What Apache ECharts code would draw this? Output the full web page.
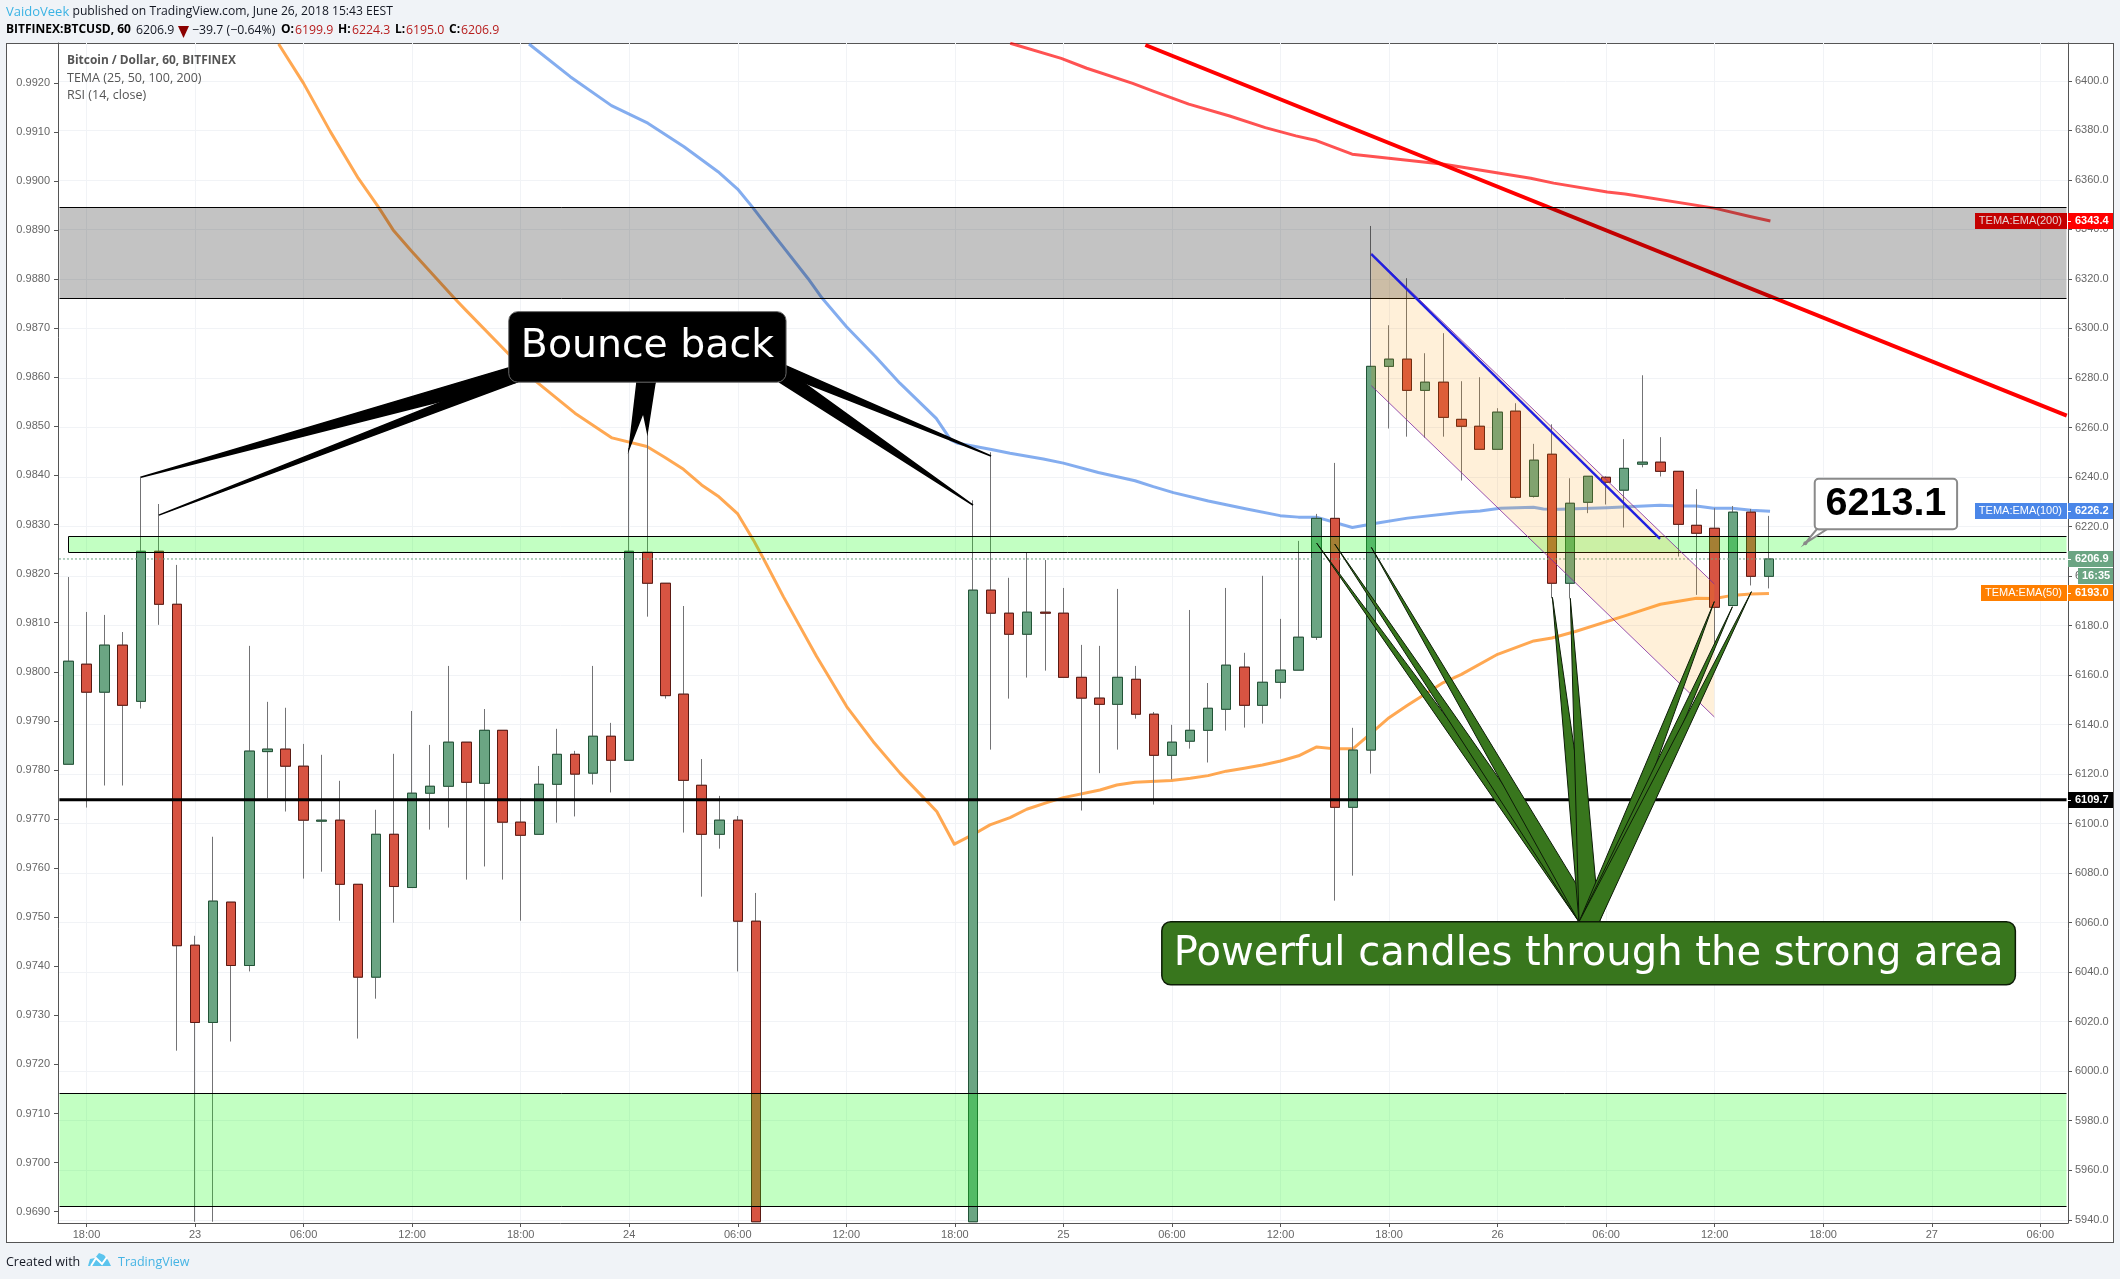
<!DOCTYPE html>
<html><head><meta charset="utf-8">
<style>
html,body{margin:0;padding:0;background:#F0F3F7;width:2120px;height:1279px;overflow:hidden}
#frame{position:absolute;left:6px;top:43px;width:2106px;height:1198px;background:#fff;border:1px solid #555}
#main{position:absolute;left:0;top:0;width:2120px;height:1279px}
</style>
<script src="https://cdn.jsdelivr.net/npm/echarts@6/dist/echarts.min.js"></script>
</head><body><div id="frame"></div><div id="main"></div>
<script>
// ---- candles (hour offset from 22 Jun 18:00) ----
const candleHours = [-1,0,1,2,3,4,5,6,7,8,9,10,11,12,13,14,15,16,17,18,19,20,21,22,23,24,25,26,27,28,29,30,31,32,33,34,35,36,37,
49,50,51,52,53,54,55,56,57,58,59,60,61,62,63,64,65,66,67,68,69,70,71,72,73,74,75,76,77,78,79,80,81,82,83,84,85,86,87,88,89,90,91,92,93];
const opens = [6124.0,6164.4,6153.1,6172.1,6149.4,6210.0,6188.6,6050.9,6019.7,6068.3,
6042.7,6129.1,6130.1,6123.2,6101.0,6101.4,6075.5,6038.0,6095.7,6074.2,
6112.3,6115.1,6132.9,6116.3,6137.7,6100.6,6095.7,6115.9,6128.0,6120.4,
6135.3,6125.6,6209.6,6197.1,6152.3,6115.5,6095.7,6101.4,6060.6,
5939.2,6194.3,6185.0,6176.5,6185.4,6185.0,6159.1,6150.7,6148.2,6158.3,
6144.2,6127.6,6133.3,6137.7,6146.2,6163.2,6147.8,6157.1,6162.0,6175.3,
6223.3,6106.6,6129.7,6284.7,6287.6,6275.0,6278.3,6263.3,6260.5,6251.2,
6266.6,6232.2,6249.2,6197.1,6229.8,6239.9,6234.7,6245.2,6246.0,6242.3,
6220.5,6219.3,6188.1,6225.8,6199.9];
const closes = [6165.6,6153.1,6172.1,6147.8,6210.0,6188.6,6050.7,6019.7,6068.7,6042.7,
6129.3,6130.1,6123.2,6101.4,6101.4,6075.5,6038.0,6095.7,6074.6,6112.3,
6115.1,6132.9,6116.7,6137.7,6100.6,6095.3,6115.9,6128.0,6120.0,6135.3,
6125.6,6210.0,6197.1,6151.7,6117.5,6095.7,6101.4,6060.6,5939.2,
6194.3,6185.0,6176.5,6185.4,6185.0,6159.1,6150.7,6148.2,6159.1,6144.2,
6127.6,6132.9,6137.7,6146.6,6164.0,6147.8,6157.1,6162.0,6175.3,6223.3,
6106.6,6129.7,6284.7,6287.6,6275.0,6278.3,6264.1,6260.5,6251.2,6266.2,
6231.8,6246.8,6197.1,6229.4,6240.3,6237.9,6243.5,6246.0,6242.3,6220.9,
6217.3,6187.4,6225.8,6199.9,6206.9];
const lows = [6124.0,6106.5,6115.4,6115.4,6146.5,6180.3,6008.3,5939.2,5939.2,6012.0,
6040.3,6110.3,6104.9,6077.8,6080.6,6060.8,6013.2,6029.3,6060.0,6074.2,
6097.6,6098.4,6077.4,6082.7,6077.4,6060.8,6095.7,6100.4,6102.9,6115.8,
6112.6,6125.6,6183.6,6150.5,6096.4,6070.5,6089.9,6040.3,5939.2,
5939.2,6129.9,6150.5,6159.0,6161.8,6159.1,6105.3,6120.4,6129.9,6142.4,
6107.7,6117.9,6130.3,6124.7,6137.6,6138.8,6140.4,6150.5,6162.0,6174.2,
6068.9,6079.0,6120.2,6259.6,6256.3,6255.9,6256.3,6238.6,6251.2,6251.2,
6231.3,6231.7,6191.0,6191.0,6225.4,6228.9,6219.6,6243.9,6240.2,6207.9,
6192.4,6170.0,6188.1,6196.2,6195.0];
const highs = [6199.6,6185.5,6184.3,6177.4,6240.2,6229.1,6204.5,6054.7,6094.7,6068.3,
6171.8,6149.2,6146.8,6132.2,6127.8,6117.3,6075.5,6105.6,6128.2,6145.5,
6131.8,6163.7,6132.9,6146.3,6137.7,6110.3,6123.3,6138.3,6129.4,6163.7,
6140.7,6251.7,6264.3,6197.1,6187.9,6126.1,6111.2,6103.1,6072.0,
6230.6,6250.0,6199.3,6209.6,6206.5,6195.2,6172.2,6171.8,6194.8,6163.7,
6145.1,6139.9,6186.3,6156.8,6195.2,6169.0,6200.1,6182.7,6214.2,6225.1,
6245.7,6138.7,6341.4,6301.3,6320.3,6290.0,6298.1,6278.7,6280.3,6267.8,
6269.8,6253.4,6261.3,6239.5,6240.3,6240.3,6255.3,6281.1,6256.1,6242.3,
6235.1,6227.4,6228.3,6227.1,6224.3];

// ---- indicators [hour, price] ----
const tema50 = [[10.62,6414.9],[12,6399],[13.48,6379.5],[15.02,6360.7],[16.15,6348.9],[16.95,6339.8],[17.96,6331.3],[20.3,6312.5],[20.98,6307.3],[23.39,6289.3],[24.86,6278.5],[27,6265.8],[29.05,6255.8],[30.98,6252.3],[31.98,6247.9],[33,6243.1],[34,6236.8],[34.96,6232],[36,6225.1],[36.86,6214.6],[37.41,6207.2],[38.52,6191.7],[40.36,6167.5],[42.02,6147.3],[43.49,6133.1],[44.97,6120.4],[47,6104.9],[47.97,6091.7],[49.21,6096.4],[49.94,6099.5],[51.05,6102.4],[51.97,6105.8],[53.08,6108.5],[54,6110.5],[56.02,6113.6],[56.95,6115.6],[57.96,6116.7],[59.97,6117.4],[61.02,6118.3],[62,6119.4],[63,6121.2],[64,6122.4],[65,6123.7],[66,6125.3],[67,6127.4],[68,6131],[69,6130.2],[70,6130.2],[71,6136.5],[72,6142.8],[73,6147.7],[74,6152.4],[75,6157],[76,6160.3],[78,6168.4],[80,6173.8],[81,6175],[82.3,6177.6],[85.2,6184.3],[87,6188.6],[89,6191],[90,6190.9],[90.9,6192.1],[92,6192.8],[93,6193]];
const tema100 = [[24.46,6414.9],[26.74,6401.7],[29.02,6390],[31.03,6382.9],[33.03,6373.4],[34.91,6363.3],[35.99,6356.3],[36.79,6349.2],[37.99,6337.8],[39.87,6320.3],[40.67,6312.2],[42.01,6300.7],[43.62,6288.6],[44.96,6277.9],[46.97,6263.7],[47.77,6255],[48.17,6253.6],[50.02,6251.1],[51.05,6249.6],[52.89,6247.3],[54,6245.6],[55.93,6241.8],[57.96,6238.5],[58.97,6236.1],[60.08,6233.7],[62.01,6230.3],[64.13,6227.1],[65.98,6224.4],[66.99,6223.8],[67.98,6223.8],[69.97,6219.6],[71.28,6221.3],[73.02,6223.4],[75.98,6225.8],[77.03,6226.3],[78.14,6227.4],[79.98,6227.8],[80.53,6227.1],[81.45,6227],[84.03,6227.6],[86.98,6228.6],[87.99,6228.3],[88.99,6228.3],[89.93,6227.4],[90.96,6227.4],[92.03,6226.6],[93.06,6226.2]];
const tema200 = [[51.06,6415.2],[53.88,6409.1],[55.29,6405.1],[57.83,6399],[58.96,6395.9],[60.93,6390.6],[63.19,6385.8],[65.16,6381.1],[66.85,6377.8],[67.98,6375.9],[69.96,6370.4],[75.04,6366.3],[79.83,6360.7],[81.1,6358.7],[84.06,6355.1],[85.05,6354.3],[89.98,6348.6],[91.95,6345.2],[93.08,6343.4]];

// ---- axes ----
const priceTicks = [5940,5960,5980,6000,6020,6040,6060,6080,6100,6120,6140,6160,6180,6200,6220,6240,6260,6280,6300,6320,6340,6360,6380,6400];
const ratioTicks = [0.969,0.970,0.971,0.972,0.973,0.974,0.975,0.976,0.977,0.978,0.979,0.980,0.981,0.982,0.983,0.984,0.985,0.986,0.987,0.988,0.989,0.990,0.991,0.992];
const timeTicks = [0,6,12,18,24,30,36,42,48,54,60,66,72,78,84,90,96,102,108];
const timeLabels = ['18:00','23','06:00','12:00','18:00','24','06:00','12:00','18:00','25','06:00','12:00','18:00','26','06:00','12:00','18:00','27','06:00'];

// ---- drawings in chart coordinates ----
const zoneRows = [[-1.52,6349.0,109.4,6312.2],[-1,6216.3,109.4,6209.6],[-1.52,5991.1,109.4,5945.5]];
const supportLine = [[-1.5,6109.7,109.45,6109.7]];
const lastPriceLine = [[-1.52,6206.9,109.45,6206.9]];
const trendLine = [[58.53,6414.5,109.46,6264.8]];
const channelCorners = [[71.02,6330.4],[89.98,6196.8],[89.98,6143.1],[71.02,6276.9]];
const channelEdges = [[71.02,6330.4,89.98,6196.8],[71.02,6276.9,89.98,6143.1]];
const channelMidLine = [[71.02,6330,86.98,6215]];
const bounceTails = [[3,6239.9,23.34,6284.1,23.8,6278.4],[4,6224.6,23.34,6281.2,23.8,6278.4],[30,6251.6,30.43,6278.4,31.43,6278.4],[31,6258.2,30.43,6278.4,31.43,6278.4],[50,6248.5,38.67,6284.9,38.67,6281],[49,6228.7,38.67,6283.2,38.3,6278.4]];
const bounceBox = [23.34,6306.8,38.67,6278.3];
const strongTails = [68,6213.3,69,6212.9,71.02,6211.6,81.03,6191.4,82.02,6191.0,89.98,6189.7,90.98,6187.6,92.03,6193.7];
const strongBase = [82.5,83.62,6060.3];
const strongBox = [59.44,6060.4,106.62,6034.9];
const priceNoteBox = [95.53,6239.3,103.4,6218.9];
const priceNoteTail = [95.01,6213.3,95.64,96.2,6218.9];
const priceNoteText = '6213.1';
const badges = [
  {price:6343.4,name:'TEMA:EMA(200)',bg:'#c40000',bg2:'#ff0000',fg:'#e6d0d0'},
  {price:6226.2,name:'TEMA:EMA(100)',bg:'#4a86e8',bg2:'#4a86e8',fg:'#ffffff'},
  {price:6206.9,name:'',bg:'',bg2:'#6ba583',fg:'#ffffff'},
  {price:6193.0,name:'TEMA:EMA(50)',bg:'#ff7f00',bg2:'#ff7f00',fg:'#ffffff'},
  {price:6109.7,name:'',bg:'',bg2:'#000000',fg:'#ffffff'}
];
const countdownPrice = 6200.2, countdownText = '16:35';

const H_MIN=-1.575, H_MAX=109.53;
const AXIS_FONT='"Liberation Sans",Arial,sans-serif';
const UI_FONT='"Open Sans",sans-serif';

function ohlc(i){return [candleHours[i],opens[i],closes[i],lows[i],highs[i]];}
const wickData = candleHours.map((h,i)=>ohlc(i));
const bodyData = candleHours.map((h,i)=>[h,opens[i],closes[i],Math.min(opens[i],closes[i]),Math.max(opens[i],closes[i])]);

function polyRender(points,style){return {type:'polygon',shape:{points},style};}
function segmentSeries(name,rows,stroke,width,z,dash){
  return {type:'custom',name,data:rows,z,silent:true,clip:true,
    encode:{x:[0,2],y:[1,3]},
    renderItem(p,api){
      const a=api.coord([api.value(0),api.value(1)]),b=api.coord([api.value(2),api.value(3)]);
      return {type:'line',shape:{x1:a[0],y1:a[1],x2:b[0],y2:b[1]},style:{stroke,lineWidth:width,lineDash:dash||null}};
    }};
}
function lineSeries(name,data,color,z){
  return {type:'line',name,data,z,showSymbol:false,symbol:'none',smooth:false,silent:true,clip:true,
    lineStyle:{color,width:3,opacity:0.68,join:'round'}};
}
function boxRender(api,box,fill,stroke,lw,r,text,font,fg,dy){
  const a=api.coord([box[0],box[1]]),b=api.coord([box[2],box[3]]);
  return [{type:'rect',shape:{x:a[0],y:a[1],width:b[0]-a[0],height:b[1]-a[1],r},style:{fill,stroke,lineWidth:lw}},
          {type:'text',style:{text,x:(a[0]+b[0])/2,y:(a[1]+b[1])/2+(dy||0),align:'center',verticalAlign:'middle',font,fill:fg}}];
}

const zoneFills=['rgba(0,0,0,0.235)','rgba(12,255,12,0.25)','rgba(12,255,12,0.25)'];

const series = [
  lineSeries('TEMA:EMA(50)',tema50,'#ff7f00',2),
  lineSeries('TEMA:EMA(100)',tema100,'#4a86e8',2),
  lineSeries('TEMA:EMA(200)',tema200,'#ff0000',2),
  {type:'candlestick',name:'wicks',data:wickData,z:3,barWidth:10,silent:true,
    itemStyle:{color:'#6ba583',color0:'#d75442',borderColor:'#737375',borderColor0:'#737375',borderWidth:1}},
  {type:'candlestick',name:'BITFINEX:BTCUSD',data:bodyData,z:3,barWidth:10,silent:true,
    itemStyle:{color:'#6ba583',color0:'#d75442',borderColor:'#225437',borderColor0:'#5b1a13',borderWidth:1}},
  segmentSeries('trend',trendLine,'#ff0000',4,3),
  {type:'custom',name:'zones',data:zoneRows,z:4,silent:true,clip:true,encode:{x:[0,2],y:[1,3]},
    renderItem(p,api){
      const a=api.coord([api.value(0),api.value(1)]),b=api.coord([api.value(2),api.value(3)]);
      const x1=Math.round(a[0])+.5,x2=Math.round(b[0])+.5,y1=Math.round(a[1])+.5,y2=Math.round(b[1])+.5;
      const ch=[{type:'rect',shape:{x:x1,y:y1,width:x2-x1,height:y2-y1},style:{fill:zoneFills[p.dataIndex]}},
        {type:'line',shape:{x1,y1,x2,y2:y1},style:{stroke:'#000',lineWidth:1}},
        {type:'line',shape:{x1,y1:y2,x2,y2},style:{stroke:'#000',lineWidth:1}}];
      if(p.dataIndex===1)ch.push({type:'line',shape:{x1,y1,x2:x1,y2},style:{stroke:'#000',lineWidth:1}});
      return {type:'group',children:ch};
    }},
  segmentSeries('support',supportLine,'#000000',3,5),
  segmentSeries('last',lastPriceLine,'#6ba583',1,5,[2,2]),
  {type:'custom',name:'channel',data:[0],z:5,silent:true,clip:true,
    renderItem(p,api){return polyRender(channelCorners.map(c=>api.coord(c)),{fill:'rgba(255,152,0,0.15)'});}},
  segmentSeries('channel edge',channelEdges,'rgba(128,40,160,0.8)',1,5),
  segmentSeries('channel mid',channelMidLine,'#2020e0',2.4,5),
  {type:'custom',name:'Bounce back',data:[0],z:6,silent:true,clip:true,
    renderItem(p,api){
      const tails=bounceTails.map(t=>polyRender([[t[0],t[1]],[t[2],t[3]],[t[4],t[5]]].map(c=>api.coord(c)),{fill:'#000',stroke:'#000',lineWidth:1.5}));
      return {type:'group',children:tails.concat(boxRender(api,bounceBox,'#000','#6a6a6a',1,9,'Bounce back','39.4px "DejaVu Sans"','#fff'))};
    }},
  {type:'custom',name:'Powerful candles',data:[0],z:6,silent:true,clip:true,
    renderItem(p,api){
      const tails=[];
      for(let i=0;i<strongTails.length;i+=2){
        tails.push(polyRender([[strongTails[i],strongTails[i+1]],[strongBase[0],strongBase[2]],[strongBase[1],strongBase[2]]].map(c=>api.coord(c)),{fill:'#38761d',stroke:'#0c1c06',lineWidth:1}));
      }
      return {type:'group',children:tails.concat(boxRender(api,strongBox,'#38761d','#0c1c06',1.5,9,'Powerful candles through the strong area','40.1px "DejaVu Sans"','#fff',1))};
    }},
  {type:'custom',name:'price note',data:[0],z:6,silent:true,clip:true,
    renderItem(p,api){
      const tip=api.coord([priceNoteTail[0],priceNoteTail[1]]);
      const tail=polyRender([tip,api.coord([priceNoteTail[2],priceNoteTail[4]]),api.coord([priceNoteTail[3],priceNoteTail[4]])],{fill:'#fff',stroke:'#8a8a8a',lineWidth:2});
      const dot={type:'circle',shape:{cx:tip[0],cy:tip[1],r:2},style:{fill:'#8a8a8a'}};
      return {type:'group',children:[tail,dot].concat(boxRender(api,priceNoteBox,'#fff','#8a8a8a',2,4,priceNoteText,'bold 39.5px "Liberation Sans"','#000'))};
    }},
  {type:'custom',name:'badges',data:badges.map(b=>[H_MAX,b.price]),z:7,silent:true,clip:false,encode:{x:0,y:1},
    renderItem(p,api){
      const b=badges[p.dataIndex],c=api.coord([H_MAX,b.price]),x=Math.round(c[0]),y=Math.round(c[1]);
      const font='11px '+AXIS_FONT,ch=[];
      if(b.name){
        const w=b.name.length>12?92:86;
        ch.push({type:'rect',shape:{x:x-w-1,y:y-8,width:w,height:16},style:{fill:b.bg}});
        ch.push({type:'text',style:{text:b.name,x:x-6,y,align:'right',verticalAlign:'middle',font,fill:b.fg}});
      }
      ch.push({type:'rect',shape:{x:x,y:y-8,width:45,height:16},style:{fill:b.bg2}});
      ch.push({type:'line',shape:{x1:x,y1:y+.5,x2:x+3,y2:y+.5},style:{stroke:'#fff',lineWidth:1}});
      ch.push({type:'text',style:{text:b.price.toFixed(1),x:x+7,y,align:'left',verticalAlign:'middle',font:'bold 11px '+AXIS_FONT,fill:'#fff'}});
      return {type:'group',children:ch};
    }},
  {type:'custom',name:'countdown',data:[[H_MAX,countdownPrice]],z:7,silent:true,clip:false,encode:{x:0,y:1},
    renderItem(p,api){
      const c=api.coord([H_MAX,countdownPrice]),x=Math.round(c[0]),y=Math.round(c[1]);
      return {type:'group',children:[{type:'rect',shape:{x:x+10,y:y-8,width:35,height:16},style:{fill:'#6ba583'}},
        {type:'text',style:{text:countdownText,x:x+14,y,align:'left',verticalAlign:'middle',font:'bold 11px '+AXIS_FONT,fill:'#fff'}}]};
    }}
];

function t(text,x,y,font,fill,z){return {type:'text',x,y,z:z||50,style:{text,font,fill,verticalAlign:'middle'}};}
const F='12.3px '+UI_FONT,FB='bold 12px '+UI_FONT,RED='#b71c1c';
const graphicEls=[
  t('VaidoVeek',6,12,'13px '+UI_FONT,'#3bb3e4'),
  t('published on TradingView.com, June 26, 2018 15:43 EEST',72.5,12,'12.15px '+UI_FONT,'#131722'),
  t('BITFINEX:BTCUSD, 60',6,30,FB,'#000'),
  t('6206.9',136,30,F,'#131722'),
  {type:'polygon',z:50,shape:{points:[[178,26],[189,26],[183.5,38]]},style:{fill:'#8b0000'}},
  t('\u221239.7 (\u22120.64%)',192,30,F,'#131722'),
  t('O:',281,30,FB,'#000'),t('6199.9',295,30,F,RED),
  t('H:',338,30,FB,'#000'),t('6224.3',352,30,F,RED),
  t('L:',395,30,FB,'#000'),t('6195.0',406,30,F,RED),
  t('C:',449,30,FB,'#000'),t('6206.9',461,30,F,RED),
  t('Bitcoin / Dollar, 60, BITFINEX',67,60.5,'bold 11.9px '+UI_FONT,'#555'),
  t('TEMA (25, 50, 100, 200)',67,78,'12.5px '+UI_FONT,'#555'),
  t('RSI (14, close)',67,95,'12.5px '+UI_FONT,'#555'),
  t('Created with',6,1262,'12.5px '+UI_FONT,'#131722'),
  t('TradingView',118,1262,'12.5px '+UI_FONT,'#45b4e4'),
  {type:'polygon',z:50,shape:{points:[[88,1266],[90,1259],[95,1258],[99,1253],[104,1255],[108,1260],[111,1266]]},style:{fill:'#5bc4ee'}},
  {type:'polyline',z:51,shape:{points:[[91,1266],[96,1258],[102,1264],[107,1257]]},style:{stroke:'#fff',lineWidth:2,fill:null}},
  {type:'rect',z:51,shape:{x:2069,y:1223.5,width:43,height:17},style:{fill:'#fff'}}
];

const option={
  animation:false,
  backgroundColor:'transparent',
  grid:{left:58,top:43,width:2010,height:1180,containLabel:false},
  xAxis:{type:'value',min:H_MIN,max:H_MAX,
    axisLine:{show:true,onZero:false,lineStyle:{color:'#555',width:1}},
    axisTick:{show:true,length:4,customValues:timeTicks,lineStyle:{color:'#555'}},
    axisLabel:{show:true,customValues:timeTicks,margin:6,color:'#666',fontFamily:AXIS_FONT,fontSize:11,
      formatter:v=>timeLabels[timeTicks.indexOf(v)]},
    splitLine:{show:true,customValues:timeTicks,lineStyle:{color:'#f1f3f6',width:1}}},
  yAxis:[
    {type:'value',position:'right',min:5938.7,max:6415.3,
      axisLine:{show:true,onZero:false,lineStyle:{color:'#555',width:1}},
      axisTick:{show:true,length:4,customValues:priceTicks,lineStyle:{color:'#555'}},
      axisLabel:{show:true,customValues:priceTicks,margin:7,color:'#666',fontFamily:AXIS_FONT,fontSize:11,formatter:v=>v.toFixed(1)},
      splitLine:{show:true,customValues:priceTicks,lineStyle:{color:'#f1f3f6',width:1}}},
    {type:'value',position:'left',min:0.96877,max:0.99281,
      axisLine:{show:true,onZero:false,lineStyle:{color:'#555',width:1}},
      axisTick:{show:true,length:4,customValues:ratioTicks,lineStyle:{color:'#555'}},
      axisLabel:{show:true,customValues:ratioTicks,margin:8,color:'#666',fontFamily:AXIS_FONT,fontSize:11,formatter:v=>v.toFixed(4)},
      splitLine:{show:false}}
  ],
  series,
  graphic:{elements:graphicEls}
};
const chart=echarts.init(document.getElementById('main'),null,{width:2120,height:1279});
chart.setOption(option);
</script></body></html>
